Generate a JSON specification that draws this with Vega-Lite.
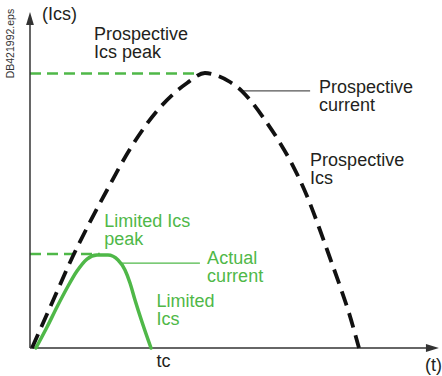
{
  "$schema": "https://vega.github.io/schema/vega-lite/v6.json",
  "width": 442,
  "height": 376,
  "autosize": {"type": "none"},
  "padding": 0,
  "background": "white",
  "config": {"view": {"stroke": null}},
  "datasets": {
    "curves": [
      {"curve": "Prospective current", "t": 0.06, "I": 0},
      {"curve": "Prospective current", "t": 0.67, "I": 16.36},
      {"curve": "Prospective current", "t": 1.31, "I": 33.45},
      {"curve": "Prospective current", "t": 1.83, "I": 45.82},
      {"curve": "Prospective current", "t": 2.35, "I": 57.45},
      {"curve": "Prospective current", "t": 3.05, "I": 72.36},
      {"curve": "Prospective current", "t": 3.87, "I": 86.18},
      {"curve": "Prospective current", "t": 4.79, "I": 96.36},
      {"curve": "Prospective current", "t": 5.335, "I": 100},
      {"curve": "Prospective current", "t": 5.64, "I": 99.27},
      {"curve": "Prospective current", "t": 6.1, "I": 96.73},
      {"curve": "Prospective current", "t": 6.46, "I": 93.45},
      {"curve": "Prospective current", "t": 6.71, "I": 90.18},
      {"curve": "Prospective current", "t": 7.165, "I": 82.91},
      {"curve": "Prospective current", "t": 7.53, "I": 76.36},
      {"curve": "Prospective current", "t": 8.02, "I": 66.18},
      {"curve": "Prospective current", "t": 8.445, "I": 55.27},
      {"curve": "Prospective current", "t": 8.84, "I": 42.91},
      {"curve": "Prospective current", "t": 9.146, "I": 32.73},
      {"curve": "Prospective current", "t": 9.45, "I": 22.55},
      {"curve": "Prospective current", "t": 9.726, "I": 12.73},
      {"curve": "Prospective current", "t": 10.03, "I": 0},
      {"curve": "Actual current", "t": 0.18, "I": 0},
      {"curve": "Actual current", "t": 0.52, "I": 7.64},
      {"curve": "Actual current", "t": 0.823, "I": 14.91},
      {"curve": "Actual current", "t": 1.128, "I": 21.82},
      {"curve": "Actual current", "t": 1.433, "I": 28.0},
      {"curve": "Actual current", "t": 1.738, "I": 32.36},
      {"curve": "Actual current", "t": 2.043, "I": 33.82},
      {"curve": "Actual current", "t": 2.378, "I": 33.82},
      {"curve": "Actual current", "t": 2.683, "I": 32.0},
      {"curve": "Actual current", "t": 2.896, "I": 28.36},
      {"curve": "Actual current", "t": 3.049, "I": 23.64},
      {"curve": "Actual current", "t": 3.201, "I": 17.45},
      {"curve": "Actual current", "t": 3.415, "I": 9.45},
      {"curve": "Actual current", "t": 3.689, "I": 0}
    ],
    "guides": [
      {"guide": "Prospective Ics peak", "kind": "peak", "t": 0, "t2": 5.27, "I": 99.8},
      {"guide": "Limited Ics peak", "kind": "peak", "t": 0, "t2": 2.13, "I": 34.2},
      {"guide": "Prospective current", "kind": "leader-prospective", "t": 6.46, "t2": 8.54, "I": 93.5},
      {"guide": "Actual current", "kind": "leader-limited", "t": 2.8, "t2": 5.18, "I": 30.9}
    ],
    "axes": [
      {"axis": "t", "t": 0, "t2": 12.15, "I": 0, "I2": 0},
      {"axis": "I", "t": 0, "t2": 0, "I": 0, "I2": 118.5}
    ],
    "arrows": [
      {"axis": "I", "t": 0, "I": 119.8},
      {"axis": "t", "t": 12.27, "I": 0}
    ],
    "labels": [
      {"text": "(Ics)", "group": "axis", "t": 0.366, "I": 119.3},
      {"text": "Prospective\nIcs peak", "group": "prospective", "t": 1.95, "I": 112.0},
      {"text": "Prospective\ncurrent", "group": "prospective", "t": 8.81, "I": 92.7},
      {"text": "Prospective\nIcs", "group": "prospective", "t": 8.54, "I": 66.3},
      {"text": "Limited Ics\npeak", "group": "limited", "t": 2.26, "I": 44.0},
      {"text": "Actual\ncurrent", "group": "limited", "t": 5.4, "I": 30.5},
      {"text": "Limited\nIcs", "group": "limited", "t": 3.86, "I": 15.0},
      {"text": "tc", "group": "axis", "t": 3.86, "I": -6.8},
      {"text": "(t)", "group": "axis", "t": 12.04, "I": -8.4}
    ],
    "fileref": [
      {"text": "DB421992.eps", "t": -0.58, "I": 110.7}
    ]
  },
  "encoding": {
    "x": {"field": "t", "type": "quantitative", "axis": null,
          "scale": {"domain": [-0.91463, 12.56098], "nice": false, "zero": false}},
    "y": {"field": "I", "type": "quantitative", "axis": null,
          "scale": {"domain": [-10.1818, 126.5455], "nice": false, "zero": false}}
  },
  "layer": [
    {
      "data": {"name": "guides"},
      "transform": [{"filter": "datum.kind === 'peak'"}],
      "mark": {"type": "rule", "color": "#4fb848", "strokeWidth": 2.6, "strokeDash": [11, 6]},
      "encoding": {"x2": {"field": "t2"}}
    },
    {
      "data": {"name": "guides"},
      "transform": [{"filter": "datum.kind === 'leader-prospective'"}],
      "mark": {"type": "rule", "color": "#555555", "strokeWidth": 1.2},
      "encoding": {"x2": {"field": "t2"}}
    },
    {
      "data": {"name": "guides"},
      "transform": [{"filter": "datum.kind === 'leader-limited'"}],
      "mark": {"type": "rule", "color": "#4fb848", "strokeWidth": 1.2},
      "encoding": {"x2": {"field": "t2"}}
    },
    {
      "data": {"name": "axes"},
      "mark": {"type": "rule", "color": "#333333", "strokeWidth": 1.5},
      "encoding": {"x2": {"field": "t2"}, "y2": {"field": "I2"}}
    },
    {
      "data": {"name": "arrows"},
      "mark": {"type": "point", "filled": true, "color": "#333333", "opacity": 1, "size": 169, "strokeWidth": 0},
      "encoding": {
        "shape": {"field": "axis", "type": "nominal", "legend": null,
                  "scale": {"domain": ["I", "t"], "range": ["M0,-1L0.6,1L-0.6,1Z", "M1,0L-1,0.6L-1,-0.6Z"]}}
      }
    },
    {
      "data": {"name": "curves"},
      "transform": [{"filter": "datum.curve === 'Actual current'"}],
      "mark": {"type": "line", "color": "#4fb848", "strokeWidth": 3.5, "interpolate": "monotone", "strokeCap": "round"},
      "encoding": {}
    },
    {
      "data": {"name": "curves"},
      "transform": [{"filter": "datum.curve === 'Prospective current'"}],
      "mark": {"type": "line", "color": "#111111", "strokeWidth": 3.8, "interpolate": "monotone", "strokeDash": [15, 8]},
      "encoding": {}
    },
    {
      "data": {"name": "labels"},
      "mark": {"type": "text", "align": "left", "baseline": "alphabetic", "font": "Liberation Sans", "fontSize": 18, "lineBreak": "\n", "lineHeight": 18},
      "encoding": {
        "text": {"field": "text"},
        "color": {"field": "group", "type": "nominal", "legend": null,
                  "scale": {"domain": ["axis", "prospective", "limited"], "range": ["#231f20", "#231f20", "#4fb848"]}}
      }
    },
    {
      "data": {"name": "fileref"},
      "mark": {"type": "text", "align": "center", "baseline": "middle", "angle": 270, "font": "Liberation Sans", "fontSize": 10.5, "color": "#333333"},
      "encoding": {"text": {"field": "text"}}
    }
  ]
}
